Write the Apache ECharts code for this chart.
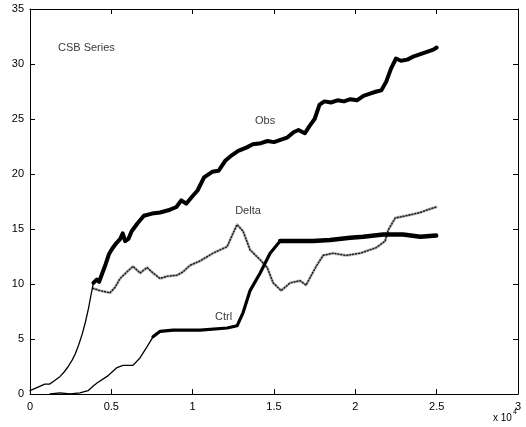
<!DOCTYPE html>
<html>
<head>
<meta charset="utf-8">
<script src="https://cdn.jsdelivr.net/npm/echarts@6/dist/echarts.min.js"></script>
<style>
  html, body { margin: 0; padding: 0; background: #fff; }
  #chart { width: 526px; height: 427px; }
</style>
</head>
<body>
<div id="chart"></div>
<script>
// x values are raw sample indices (axis shows them in units of 10^4)
const obsData = [
  [0, 0.3], [600, 0.7], [900, 0.9], [1200, 0.9], [1500, 1.2], [1850, 1.6], [2100, 2.0],
  [2350, 2.5], [2600, 3.1], [2800, 3.7], [3000, 4.5], [3200, 5.4], [3400, 6.5],
  [3600, 7.8], [3750, 9.0], [3900, 10.1],
  [4100, 10.4], [4250, 10.2], [4450, 11.0], [4650, 11.8], [4850, 12.7], [5050, 13.2],
  [5300, 13.7], [5550, 14.1], [5700, 14.6], [5850, 13.9], [6050, 14.1], [6250, 14.8],
  [6600, 15.5], [7000, 16.2], [7500, 16.4], [8000, 16.5], [8500, 16.7], [9000, 17.0],
  [9300, 17.6], [9600, 17.3], [10000, 18.0], [10300, 18.5], [10700, 19.7], [11200, 20.2],
  [11600, 20.3], [12000, 21.2], [12400, 21.7], [12800, 22.1], [13300, 22.4], [13700, 22.7],
  [14200, 22.8], [14600, 23.0], [15000, 22.9], [15400, 23.1], [15800, 23.3], [16200, 23.8],
  [16500, 24.0], [16900, 23.7], [17200, 24.4], [17500, 25.0], [17800, 26.3], [18100, 26.6],
  [18500, 26.5], [18900, 26.7], [19300, 26.6], [19700, 26.8], [20100, 26.7], [20500, 27.1],
  [20900, 27.3], [21300, 27.5], [21600, 27.6], [21900, 28.4], [22200, 29.6], [22500, 30.5],
  [22800, 30.3], [23200, 30.4], [23600, 30.7], [24000, 30.9], [24400, 31.1], [24800, 31.3],
  [25000, 31.5]
]
const obsThickFrom = 3900

const deltaData = [
  [3870, 9.6], [4300, 9.4], [4920, 9.2], [5230, 9.7], [5540, 10.5], [5960, 11.1],
  [6330, 11.6], [6770, 11.0], [7200, 11.5], [7560, 11.0], [8000, 10.5], [8430, 10.7],
  [9040, 10.8], [9400, 11.1], [9840, 11.7], [10460, 12.1], [11250, 12.8], [12120, 13.4],
  [12480, 14.6], [12730, 15.4], [13100, 14.8], [13530, 13.1], [14150, 12.2], [14580, 11.5],
  [14950, 10.1], [15440, 9.4], [15990, 10.1], [16600, 10.3], [16970, 9.9], [17590, 11.6],
  [18020, 12.6], [18630, 12.8], [19430, 12.6], [20300, 12.8], [21280, 13.3], [21830, 13.9],
  [22020, 14.9], [22450, 16.0], [23120, 16.2], [23990, 16.5], [24350, 16.7], [24970, 17.0]
]

const ctrlData = [
  [1230, 0.0], [1850, 0.1], [2460, 0.0], [3070, 0.1], [3570, 0.3], [3870, 0.7],
  [4120, 1.0], [4740, 1.6], [5350, 2.4], [5720, 2.6], [6330, 2.6], [6770, 3.3],
  [7200, 4.3], [7560, 5.2], [8000, 5.7], [8800, 5.8], [10460, 5.8], [12120, 6.0],
  [12730, 6.2], [13100, 7.4], [13530, 9.4], [14150, 11.0], [14760, 12.8], [15380, 13.9],
  [16360, 13.9], [17400, 13.9], [18450, 14.0], [19680, 14.2], [20480, 14.3], [21710, 14.5],
  [22940, 14.5], [23990, 14.3], [24970, 14.4]
]
const ctrlMidFrom = 7560
const ctrlThickFrom = 15380

const annotations = [
  { name: 'CSB Series', value: [1720, 31.45], align: 'left' },
  { name: 'Obs', value: [14450, 24.8], align: 'center' },
  { name: 'Delta', value: [13400, 16.6], align: 'center' },
  { name: 'Ctrl', value: [11900, 7.0], align: 'center' }
]

const font = 'Liberation Sans, Arial, sans-serif'
const axisLine = { show: true, onZero: false, lineStyle: { color: '#000', width: 1 } }
const tick = { show: true, inside: true, length: 5, lineStyle: { color: '#000' } }

function lineSeries(data, width, color, type) {
  return {
    type: 'line',
    data: data,
    showSymbol: false,
    silent: true,
    animation: false,
    lineStyle: { color: color, width: width, type: type || 'solid', join: 'round', cap: 'round' }
  }
}

const chart = echarts.init(document.getElementById('chart'))
chart.setOption({
  backgroundColor: '#fff',
  animation: false,
  grid: { left: 30, right: 8, top: 9, bottom: 33 },
  xAxis: [
    {
      type: 'value', min: 0, max: 30000, interval: 5000,
      axisLine: axisLine, axisTick: tick, splitLine: { show: false },
      axisLabel: {
        color: '#000', fontFamily: font, fontSize: 11, margin: 7,
        formatter: v => (v / 10000).toString()
      }
    },
    {
      type: 'value', position: 'top', min: 0, max: 30000, interval: 5000,
      axisLine: axisLine, axisTick: tick, splitLine: { show: false },
      axisLabel: { show: false }
    }
  ],
  yAxis: [
    {
      type: 'value', min: 0, max: 35, interval: 5,
      axisLine: axisLine, axisTick: tick, splitLine: { show: false },
      axisLabel: { color: '#000', fontFamily: font, fontSize: 11, margin: 6 }
    },
    {
      type: 'value', position: 'right', min: 0, max: 35, interval: 5,
      axisLine: axisLine, axisTick: tick, splitLine: { show: false },
      axisLabel: { show: false }
    }
  ],
  series: [
    lineSeries(deltaData, 3, '#c8c8c8'),
    lineSeries(deltaData, 1.6, '#222', [1, 2]),
    lineSeries(obsData.filter(d => d[0] <= obsThickFrom), 1.3, '#000'),
    lineSeries(obsData.filter(d => d[0] >= obsThickFrom), 4, '#000'),
    lineSeries(ctrlData.filter(d => d[0] <= ctrlMidFrom), 1.3, '#000'),
    lineSeries(ctrlData.filter(d => d[0] >= ctrlMidFrom && d[0] <= ctrlThickFrom), 3.2, '#000'),
    lineSeries(ctrlData.filter(d => d[0] >= ctrlThickFrom), 4.5, '#000'),
    {
      type: 'scatter',
      symbolSize: 0,
      silent: true,
      data: annotations.map(a => ({
        name: a.name,
        value: a.value,
        label: { align: a.align }
      })),
      label: {
        show: true,
        position: [0, 0],
        verticalAlign: 'middle',
        formatter: p => p.name,
        color: '#000',
        fontFamily: font,
        fontSize: 11
      }
    }
  ],
  graphic: [
    {
      type: 'text',
      left: 493,
      top: 413,
      style: { text: 'x 10', fontFamily: font, fontSize: 10, fill: '#000' }
    },
    {
      type: 'text',
      left: 513,
      top: 409,
      style: { text: '4', fontFamily: font, fontSize: 7, fill: '#000' }
    }
  ]
})
</script>
</body>
</html>
